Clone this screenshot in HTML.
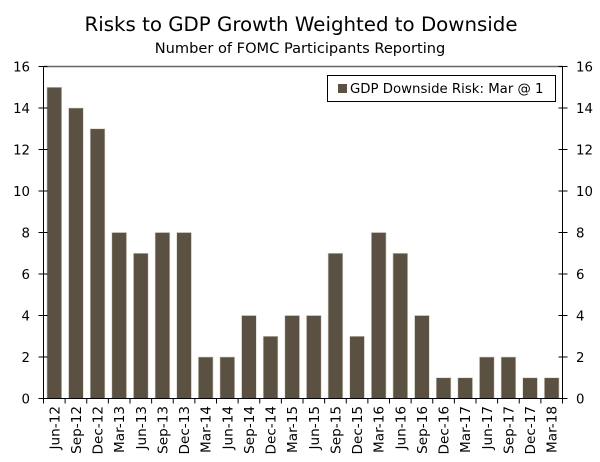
<!DOCTYPE html>
<html><head><meta charset="utf-8"><style>
body{margin:0;background:#fff;}
svg{display:block;font-family:"DejaVu Sans","Liberation Sans",sans-serif;}
</style></head><body>
<svg id="chart" width="600" height="462">
<text x="301" y="31" text-anchor="middle" font-size="19.8" fill="#000">Risks to GDP Growth Weighted to Downside</text>
<text x="300" y="53" text-anchor="middle" font-size="14.6" fill="#000">Number of FOMC Participants Reporting</text>
<g id="plot"></g>
<g>
<rect x="327.5" y="75.5" width="228" height="26" fill="#fff" stroke="#000"/>
<rect x="338" y="84" width="9" height="9" fill="#5b5142"/>
<text x="350" y="93" font-size="13.3" fill="#000">GDP Downside Risk: Mar @ 1</text>
</g>
</svg>
<script>
const categories=["Jun-12","Sep-12","Dec-12","Mar-13","Jun-13","Sep-13","Dec-13","Mar-14","Jun-14","Sep-14","Dec-14","Mar-15","Jun-15","Sep-15","Dec-15","Mar-16","Jun-16","Sep-16","Dec-16","Mar-17","Jun-17","Sep-17","Dec-17","Mar-18"];
const values=[15,14,13,8,7,8,8,2,2,4,3,4,4,7,3,8,7,4,1,1,2,2,1,1];
const yTicks=[0,2,4,6,8,10,12,14,16];
const NS="http://www.w3.org/2000/svg";
const g=document.getElementById("plot");
const L=43.5,R=562.5,T=66.5,B=398.5,yMax=16;
const y=v=>B-(v/yMax)*(B-T);
const step=(R-L)/categories.length;
const x=i=>L+i*step;
function mk(t,a){const e=document.createElementNS(NS,t);for(const k in a)e.setAttribute(k,a[k]);g.appendChild(e);return e;}
let e;
e=mk("line",{x1:L,x2:R,y1:T,y2:T,stroke:"#666","stroke-width":1.5});


values.forEach((v,i)=>{
 const bw=step*0.68;
 const r=mk("rect",{x:x(i)+(step-bw)/2,y:y(v),width:bw,height:B-y(v),fill:"#5b5142",stroke:"#d8d4cc","stroke-width":0.6});
 
 
 const t=mk("text",{transform:`translate(${x(i)+step/2+5},406) rotate(-90)`,"text-anchor":"end","font-size":13.6,fill:"#000"});
 t.textContent=categories[i];
 
 
});
for(let i=0;i<=categories.length;i++){
 const tk=mk("line",{x1:x(i),x2:x(i),y1:B,y2:B+5,stroke:"#000"});
 
 
}
yTicks.forEach(v=>{
 const a=mk("line",{x1:L-5,x2:L+4,y1:y(v),y2:y(v),stroke:"#000"});
 
 
 const b=mk("line",{x1:R-4,x2:R+5,y1:y(v),y2:y(v),stroke:"#000"});
 
 
 const tl=mk("text",{x:30,y:y(v)+5,"text-anchor":"end","font-size":13.3,fill:"#000"});
 tl.textContent=v;
 
 
 const tr=mk("text",{x:576,y:y(v)+5,"text-anchor":"start","font-size":13.3,fill:"#000"});
 tr.textContent=v;
 
 
});
e=mk("line",{x1:L,x2:L,y1:T,y2:B,stroke:"#000"});


e=mk("line",{x1:R,x2:R,y1:T,y2:B,stroke:"#000"});


e=mk("line",{x1:L-5,x2:R+5,y1:B,y2:B,stroke:"#000"});


</script>
</body></html>
